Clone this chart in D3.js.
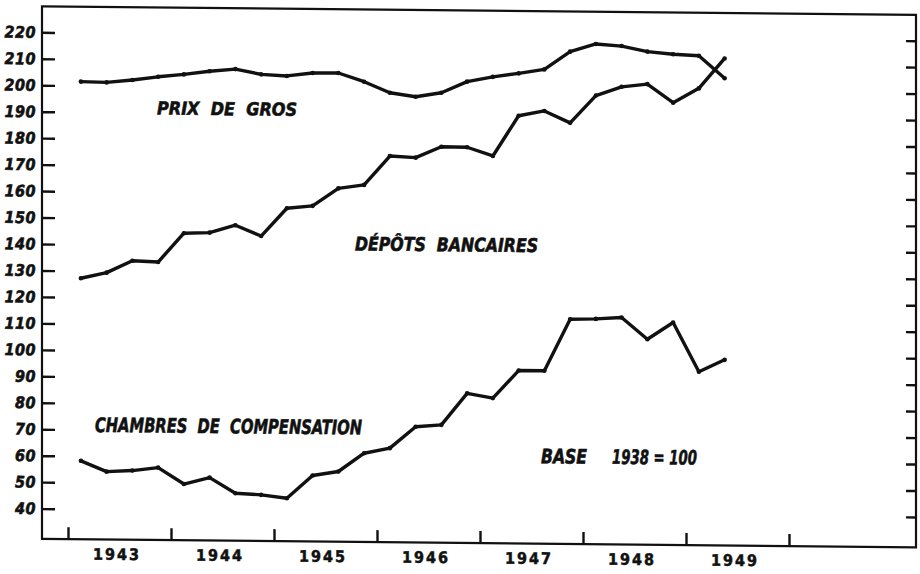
<!DOCTYPE html>
<html>
<head>
<meta charset="utf-8">
<script src="https://cdn.jsdelivr.net/npm/d3@7"></script>
<style>
  body { margin: 0; background: #fff; }
  svg text { font-family: "Liberation Sans Narrow", "DejaVu Sans Condensed", "Liberation Sans", sans-serif; fill: #111; }
</style>
</head>
<body>
<div id="chart"></div>
<script>
// quarterly indices, base 1938 = 100
var quarters = ["1943-1","1943-2","1943-3","1943-4","1944-1","1944-2","1944-3","1944-4",
                "1945-1","1945-2","1945-3","1945-4","1946-1","1946-2","1946-3","1946-4",
                "1947-1","1947-2","1947-3","1947-4","1948-1","1948-2","1948-3","1948-4",
                "1949-1","1949-2"];
var prixDeGros = [201.5, 201.3, 202.3, 203.6, 204.6, 205.9, 206.8, 204.9, 204.4, 205.6, 205.7, 202.5, 198.4,
                  197.0, 198.6, 202.9, 204.8, 206.2, 207.8, 214.6, 217.6, 216.9, 214.9, 214.0, 213.5, 205.1];
var depotsBancaires = [127.2, 129.4, 134.0, 133.6, 144.6, 144.9, 147.8, 143.8, 154.4, 155.4, 162.1, 163.5, 174.5,
                       174.0, 178.2, 178.1, 174.9, 190.2, 192.1, 187.7, 198.1, 201.5, 202.6, 195.7, 201.2, 212.6];
var chambresCompensation = [58.2, 54.2, 54.7, 55.9, 49.8, 52.3, 46.5, 46.0, 44.8, 53.5, 55.1, 62.1, 64.1,
                            72.3, 73.1, 85.1, 83.4, 93.9, 93.9, 113.5, 113.7, 114.3, 106.2, 112.6, 94.1, 98.7];
var yTicks = [40, 50, 60, 70, 80, 90, 100, 110, 120, 130, 140, 150, 160, 170, 180, 190, 200, 210, 220];
var yearTicks = [1943, 1944, 1945, 1946, 1947, 1948, 1949, 1950];
var yearLabels = ["1943", "1944", "1945", "1946", "1947", "1948", "1949"];

var width = 920, height = 574;
var frame = {left: 42, right: 916, top: 6, bottom: 538.5};

var svg = d3.select("#chart").append("svg")
    .attr("width", width)
    .attr("height", height);

// the printed sheet sits very slightly askew
var g = svg.append("g").attr("transform", "skewY(0.55)");

var x = d3.scaleLinear().domain([1943, 1950]).range([68, 789]);
var y = d3.scaleLinear().domain([40, 220]).range([508.2, 31.9]);

function qx(q) {
  var p = q.split("-");
  return x(+p[0] + (+p[1] - 0.5) / 4);
}

// frame
g.append("rect")
  .attr("x", frame.left).attr("y", frame.top)
  .attr("width", frame.right - frame.left).attr("height", frame.bottom - frame.top)
  .attr("fill", "none").attr("stroke", "#111").attr("stroke-width", 2.2);

// left axis with inward ticks
var yAxis = g.append("g")
  .attr("transform", "translate(" + frame.left + ",0)")
  .call(d3.axisLeft(y).tickValues(yTicks).tickSize(-13).tickSizeOuter(0).tickPadding(6));
yAxis.select(".domain").remove();
yAxis.selectAll("line").attr("stroke", "#111").attr("stroke-width", 2.4);
yAxis.selectAll("text")
  .style("font-size", "16px").style("font-weight", "bold").style("font-style", "italic")
  .style("letter-spacing", "0.5px")
  .attr("stroke", "#111").attr("stroke-width", 0.6);

// right axis, ticks only
var yAxisR = g.append("g")
  .attr("transform", "translate(" + frame.right + ",0)")
  .call(d3.axisRight(y).tickValues(yTicks).tickSize(-10).tickSizeOuter(0).tickFormat(""));
yAxisR.select(".domain").remove();
yAxisR.selectAll("line").attr("stroke", "#111").attr("stroke-width", 2.4);

// bottom axis: year boundaries as upward ticks
var xAxis = g.append("g")
  .attr("transform", "translate(0," + frame.bottom + ")")
  .call(d3.axisBottom(x).tickValues(yearTicks).tickSize(-12).tickSizeOuter(0).tickFormat(""));
xAxis.select(".domain").remove();
xAxis.selectAll("line").attr("stroke", "#111").attr("stroke-width", 2.4);

// year labels centred in each year
var xLabels = g.append("g")
  .attr("transform", "translate(0," + frame.bottom + ")")
  .call(d3.axisBottom(x)
    .tickValues(yearLabels.map(function(d) { return +d + 0.5; }))
    .tickSize(0).tickPadding(9)
    .tickFormat(function(d) { return String(Math.floor(d)); }));
xLabels.select(".domain").remove();
xLabels.selectAll("text")
  .attr("dx", -3)
  .style("font-size", "16px").style("font-weight", "bold")
  .style("letter-spacing", "2px")
  .attr("stroke", "#111").attr("stroke-width", 0.5);

// the three index lines
var nested = [prixDeGros, depotsBancaires, chambresCompensation].map(function(vals) {
  return quarters.map(function(q, i) { return {q: q, value: vals[i]}; });
});

var line = d3.line()
  .x(function(d) { return qx(d.q); })
  .y(function(d) { return y(d.value); });

g.selectAll(".serie")
  .data(nested)
  .enter()
  .append("path")
    .attr("class", "serie")
    .attr("fill", "none")
    .attr("stroke", "#111")
    .attr("stroke-width", 3.4)
    .attr("stroke-linejoin", "round")
    .attr("stroke-linecap", "round")
    .attr("d", line);

g.selectAll(".pts")
  .data(nested)
  .enter()
  .append("g")
  .selectAll("circle")
  .data(function(d) { return d; })
  .enter()
  .append("circle")
    .attr("cx", function(d) { return qx(d.q); })
    .attr("cy", function(d) { return y(d.value); })
    .attr("r", 2.3)
    .attr("fill", "#111");

// hand lettered labels
var labels = [
  {text: "PRIX  DE  GROS", x: 157, y: 113, w: 140, size: 18},
  {text: "DÉPÔTS  BANCAIRES", x: 355, y: 247, w: 183, size: 19},
  {text: "CHAMBRES  DE  COMPENSATION", x: 95, y: 431, w: 267, size: 20},
  {text: "BASE", x: 541, y: 458, w: 46, size: 20},
  {text: "1938 = 100", x: 612, y: 458, w: 85, size: 20}
];
g.selectAll(".lbl")
  .data(labels)
  .enter()
  .append("text")
    .attr("class", "lbl")
    .attr("x", function(d) { return d.x; })
    .attr("y", function(d) { return d.y; })
    .attr("textLength", function(d) { return d.w; })
    .attr("lengthAdjust", "spacingAndGlyphs")
    .attr("stroke", "#111")
    .attr("stroke-width", 0.6)
    .style("white-space", "pre")
    .style("font-size", function(d) { return d.size + "px"; })
    .style("font-weight", "bold")
    .style("font-style", "italic")
    .text(function(d) { return d.text; });
</script>
</body>
</html>
